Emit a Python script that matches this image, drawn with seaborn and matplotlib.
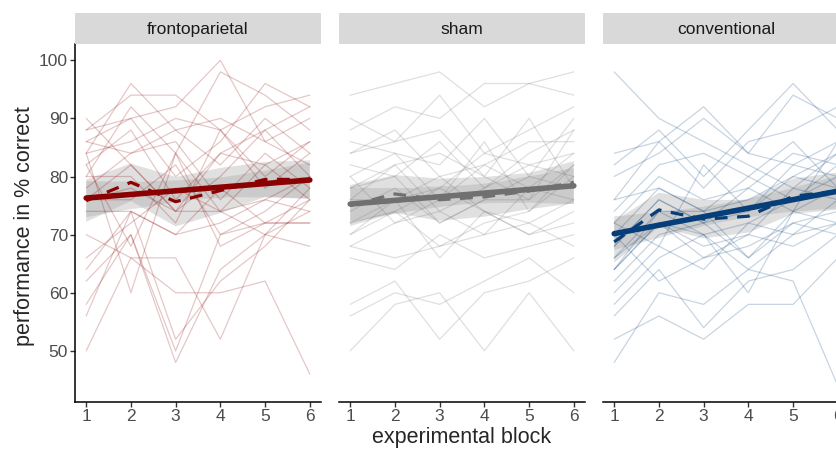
import numpy as np
import pandas as pd
import seaborn as sns
import matplotlib.pyplot as plt

# percent correct per participant (rows) and block 1-6 (columns)
blocks = [1, 2, 3, 4, 5, 6]
groups = ["frontoparietal", "sham", "conventional"]
colors = {"frontoparietal": "#8B0000", "sham": "#707070", "conventional": "#053E78"}

frontoparietal = [
    [88, 94, 94, 88, 92, 94], [84, 96, 88, 90, 86, 82], [86, 90, 92, 100, 86, 90],
    [80, 92, 84, 98, 94, 88], [88, 90, 80, 86, 96, 92], [84, 86, 90, 88, 80, 86],
    [82, 88, 76, 84, 88, 80], [78, 84, 86, 76, 84, 78], [76, 82, 74, 80, 88, 92],
    [80, 80, 72, 88, 78, 84], [76, 78, 74, 74, 82, 76], [76, 76, 82, 70, 74, 80],
    [74, 74, 70, 78, 72, 76], [66, 72, 78, 74, 76, 80], [64, 74, 70, 72, 76, 74],
    [62, 70, 48, 64, 70, 68], [70, 66, 66, 52, 70, 74], [58, 70, 50, 70, 72, 72],
    [56, 74, 52, 62, 68, 76], [50, 66, 60, 60, 62, 46], [84, 60, 84, 68, 72, 72],
    [82, 68, 84, 74, 70, 78], [90, 82, 74, 84, 82, 86], [86, 84, 88, 82, 90, 84],
]
sham = [
    [94, 96, 98, 92, 96, 98], [88, 92, 90, 96, 96, 94], [90, 86, 94, 84, 88, 92],
    [86, 84, 82, 90, 80, 90], [84, 88, 80, 82, 86, 86], [82, 80, 86, 78, 84, 88],
    [80, 84, 76, 82, 78, 84], [78, 82, 84, 80, 76, 82], [76, 76, 78, 84, 82, 80],
    [74, 78, 72, 76, 80, 78], [72, 76, 80, 74, 72, 76], [70, 74, 68, 72, 74, 80],
    [68, 72, 74, 70, 78, 76], [72, 74, 78, 74, 70, 74], [70, 76, 66, 74, 70, 72],
    [68, 66, 68, 70, 72, 68], [66, 64, 70, 66, 68, 70], [58, 62, 52, 60, 62, 66],
    [56, 60, 58, 62, 66, 60], [50, 58, 60, 50, 60, 50], [80, 72, 76, 86, 74, 82],
    [84, 86, 88, 80, 90, 78], [76, 82, 74, 78, 82, 84], [78, 80, 72, 76, 76, 88],
]
conventional = [
    [98, 90, 86, 82, 78, 84], [82, 88, 80, 88, 96, 88], [84, 86, 92, 84, 94, 90],
    [80, 84, 90, 84, 82, 86], [76, 86, 78, 86, 88, 92], [74, 82, 84, 80, 86, 78],
    [72, 80, 76, 78, 84, 82], [70, 78, 74, 76, 80, 84], [68, 76, 72, 74, 82, 80],
    [66, 74, 70, 72, 76, 80], [64, 72, 66, 70, 78, 76], [62, 70, 72, 66, 74, 78],
    [60, 68, 64, 72, 70, 76], [58, 66, 70, 60, 74, 72], [56, 64, 54, 62, 64, 70],
    [52, 56, 52, 58, 58, 66], [48, 60, 58, 64, 62, 44], [70, 62, 66, 68, 72, 74],
    [66, 72, 70, 64, 70, 72], [64, 72, 68, 70, 68, 72], [76, 78, 74, 80, 76, 82],
    [64, 74, 74, 66, 72, 70], [72, 68, 82, 74, 80, 78], [68, 76, 72, 78, 74, 86],
]

rows = []
for g, mat in zip(groups, [frontoparietal, sham, conventional]):
    for i, subj in enumerate(mat):
        for b, v in zip(blocks, subj):
            rows.append({"group": g, "subject": i, "block": b, "score": v})
df = pd.DataFrame(rows)

sns.set_style("white")
plt.rcParams["font.family"] = ["Liberation Sans", "DejaVu Sans"]

fig = plt.figure(figsize=(8.37, 4.49), dpi=100)
W, H = 837, 449
lefts = [75, 339, 603]
pw = 246
top, bottom = 44, 402


def grey_band(ax):
    band = ax.collections[-1]
    band.set_facecolor("#A0A0A0")
    band.set_alpha(0.32)
    band.set_edgecolor("none")
    band.set_linewidth(0)


for k, g in enumerate(groups):
    ax = fig.add_axes([lefts[k] / W, (H - bottom) / H, pw / W, (bottom - top) / H])
    d = df[df.group == g]
    c = colors[g]
    sns.lineplot(data=d, x="block", y="score", units="subject", estimator=None,
                 color=c, alpha=0.22, lw=0.9, ax=ax)
    sns.lineplot(data=d, x="block", y="score", estimator="mean", errorbar=("se", 1.6),
                 color=c, lw=2.3, linestyle=(0, (4, 3)), ax=ax)
    grey_band(ax)
    sns.regplot(data=d, x="block", y="score", scatter=False, ci=95, seed=1,
                color=c, line_kws={"lw": 4}, ax=ax)
    grey_band(ax)

    ax.set_xlim(0.75, 6.25)
    ax.set_ylim(41.2, 102.8)
    ax.set_xticks(blocks)
    ax.set_yticks([50, 60, 70, 80, 90, 100])
    ax.set_xlabel("")
    ax.set_ylabel("")
    for s in ["top", "right"]:
        ax.spines[s].set_visible(False)
    ax.spines["bottom"].set_linewidth(1.1)
    ax.spines["bottom"].set_color("black")
    ax.tick_params(axis="both", length=3.5, width=1, color="#333333",
                   labelsize=12.5, labelcolor="#4D4D4D", pad=1.5, bottom=True, left=True)
    if k == 0:
        ax.spines["left"].set_linewidth(1.1)
        ax.spines["left"].set_color("black")
    else:
        ax.spines["left"].set_visible(False)
        ax.tick_params(axis="y", left=False, labelleft=False)

    # facet strip
    sa = fig.add_axes([lefts[k] / W, (H - top) / H, pw / W, 31 / H])
    sa.set_facecolor("#D9D9D9")
    sa.set_xticks([])
    sa.set_yticks([])
    for s in sa.spines.values():
        s.set_visible(False)
    sa.text(0.5, 0.47, g, ha="center", va="center", fontsize=12.5, color="#1A1A1A",
            transform=sa.transAxes)

fig.text((75 + 849) / 2 / W, (H - 438) / H, "experimental block", ha="center", va="center",
         fontsize=15.5)
fig.text(25 / W, (H - 226) / H, "performance in % correct", ha="center", va="center",
         rotation=90, fontsize=15.5)

fig.savefig("out.png", dpi=100)
